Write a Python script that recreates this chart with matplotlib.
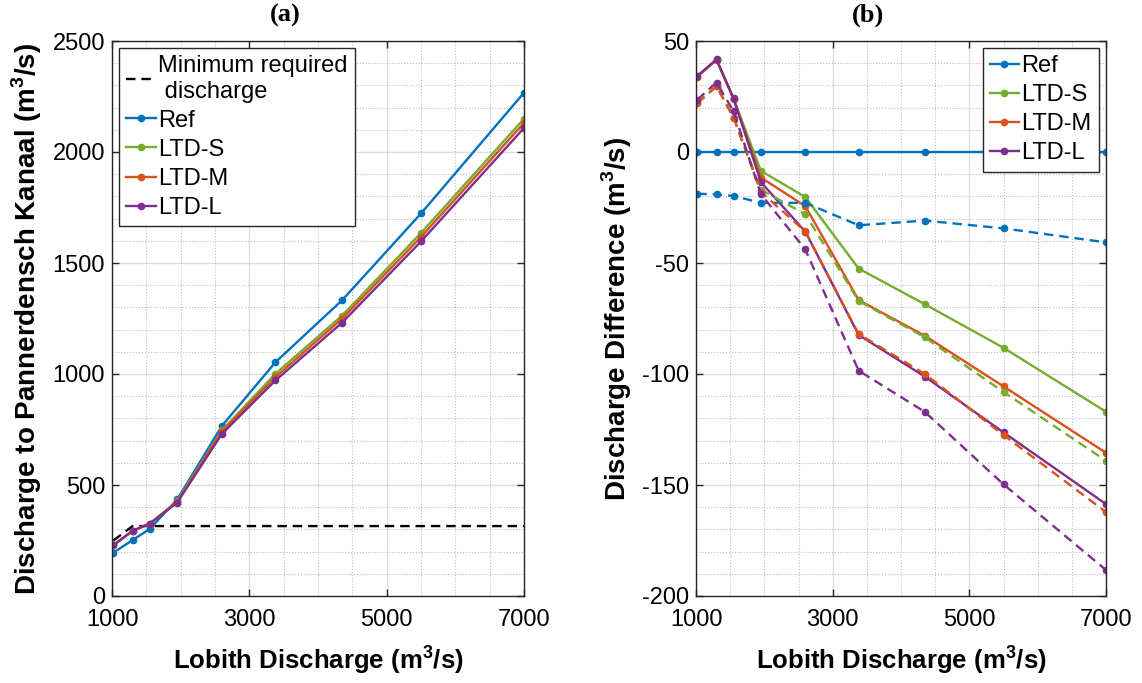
import numpy as np
import matplotlib.pyplot as plt
from matplotlib.ticker import MultipleLocator

plt.rcParams['font.family'] = ['Liberation Sans', 'DejaVu Sans']
plt.rcParams['mathtext.fontset'] = 'custom'
plt.rcParams['mathtext.rm'] = 'Liberation Sans'
plt.rcParams['mathtext.bf'] = 'Liberation Sans:bold'
plt.rcParams['axes.unicode_minus'] = False

# Lobith discharge (m3/s)
lobith = [1020, 1300, 1550, 1950, 2600, 3380, 4350, 5500, 7000]

# (a) discharge to Pannerdensch Kanaal
min_x = [1020, 1300, 7000]
min_q = [250, 315, 315]
q_ref = [195, 252, 302, 435, 766, 1053, 1332, 1723, 2267]
q_ltd_s = [229, 293, 326, 427, 746, 1001, 1263, 1635, 2150]
q_ltd_m = [229, 293, 326, 424, 742, 986, 1249, 1617, 2131]
q_ltd_l = [229, 294, 326, 421, 730, 971, 1231, 1597, 2108]

# (b) discharge difference, solid and dashed scenarios
d_ref = [0, 0, 0, 0, 0, 0, 0, 0, 0]
d_ltd_s = [34, 41.5, 24, -8.5, -20.3, -52.5, -68.6, -88.2, -117]
d_ltd_m = [34, 41.5, 24, -11.5, -24.4, -66.7, -82.8, -105.6, -135.5]
d_ltd_l = [34.3, 41.7, 24.1, -13.6, -35.9, -82.4, -101.2, -126.3, -158.6]
d_ref_2 = [-18.8, -19.1, -19.8, -22.9, -22.9, -33.0, -30.9, -34.4, -40.7]
d_ltd_s_2 = [22, 29.6, 15.5, -17, -28, -67.1, -83.5, -108.1, -139.1]
d_ltd_m_2 = [22.1, 29.6, 15.5, -18, -35.8, -82, -100, -127.5, -162.2]
d_ltd_l_2 = [23.6, 31.3, 18.3, -19, -43.9, -98.5, -117.1, -149.7, -188.3]

xticks = [1000, 3000, 5000, 7000]

c_ref = '#0072BD'
c_s = '#77AC30'
c_m = '#D95319'
c_l = '#7E2F8E'
lw = 1.7
ms = 9
dash = (4, 2.5)

fig = plt.figure(figsize=(11.42, 6.83), dpi=100)
ax1 = fig.add_axes([112/1142, 87/683, 412/1142, 555/683])
ax2 = fig.add_axes([696/1142, 87/683, 410/1142, 555/683])


def style(ax):
    ax.set_xlim(1000, 7000)
    ax.set_xticks(xticks)
    ax.xaxis.set_minor_locator(MultipleLocator(500))
    ax.grid(True, which='major', color='#262626', alpha=0.15, lw=1)
    ax.grid(True, which='minor', color='#262626', alpha=0.3, lw=0.8, ls=':')
    ax.tick_params(which='major', direction='in', length=5, width=1,
                   top=True, right=True, labelsize=17, colors='#262626',
                   labelcolor='black', pad=5)
    ax.tick_params(axis='x', which='major', pad=9)
    ax.tick_params(which='minor', length=0)
    for sp in ax.spines.values():
        sp.set_color('#262626')
        sp.set_linewidth(1)
    ax.set_axisbelow(True)
    ax.set_xlabel(r'Lobith Discharge (m$^{\mathbf{3}}$/s)', fontsize=18.5,
                  fontweight='bold')
    ax.xaxis.set_label_coords(0.5, -0.085)


def legend(ax, loc):
    leg = ax.legend(loc=loc, fontsize=17, handlelength=1.25,
                    handletextpad=0.1, borderpad=0.3, labelspacing=0.3,
                    borderaxespad=0.3, fancybox=False, framealpha=1)
    leg.get_frame().set_edgecolor('#262626')
    leg.get_frame().set_linewidth(1)


style(ax1)
ax1.plot(min_x, min_q, color='black', lw=lw, dashes=dash, label='Minimum required\n discharge')
ax1.plot(lobith, q_ref, '.-', color=c_ref, lw=lw, ms=ms, label='Ref')
ax1.plot(lobith, q_ltd_s, '.-', color=c_s, lw=lw, ms=ms, label='LTD-S')
ax1.plot(lobith, q_ltd_m, '.-', color=c_m, lw=lw, ms=ms, label='LTD-M')
ax1.plot(lobith, q_ltd_l, '.-', color=c_l, lw=lw, ms=ms, label='LTD-L')
ax1.set_ylim(0, 2500)
ax1.yaxis.set_major_locator(MultipleLocator(500))
ax1.yaxis.set_minor_locator(MultipleLocator(100))
ax1.set_ylabel(r'Discharge to Pannerdensch Kanaal (m$^{\mathbf{3}}$/s)',
               fontsize=20, fontweight='bold')
ax1.yaxis.set_label_coords(-0.165, 0.5)
ax1.text(0.42, 1 + 26/555, '(a)', transform=ax1.transAxes, ha='center',
         va='center', fontsize=19, fontweight='bold', family='Liberation Serif')
legend(ax1, 'upper left')

style(ax2)
ax2.plot(lobith, d_ref, '.-', color=c_ref, lw=lw, ms=ms, label='Ref')
ax2.plot(lobith, d_ltd_s, '.-', color=c_s, lw=lw, ms=ms, label='LTD-S')
ax2.plot(lobith, d_ltd_m, '.-', color=c_m, lw=lw, ms=ms, label='LTD-M')
ax2.plot(lobith, d_ltd_l, '.-', color=c_l, lw=lw, ms=ms, label='LTD-L')
ax2.plot(lobith, d_ref_2, '.', ls='--', dashes=dash, color=c_ref, lw=lw, ms=ms)
ax2.plot(lobith, d_ltd_s_2, '.', ls='--', dashes=dash, color=c_s, lw=lw, ms=ms)
ax2.plot(lobith, d_ltd_m_2, '.', ls='--', dashes=dash, color=c_m, lw=lw, ms=ms)
ax2.plot(lobith, d_ltd_l_2, '.', ls='--', dashes=dash, color=c_l, lw=lw, ms=ms)
ax2.set_ylim(-200, 50)
ax2.yaxis.set_major_locator(MultipleLocator(50))
ax2.yaxis.set_minor_locator(MultipleLocator(10))
ax2.set_ylabel(r'Discharge Difference (m$^{\mathbf{3}}$/s)', fontsize=20,
               fontweight='bold')
ax2.yaxis.set_label_coords(-0.15, 0.5)
ax2.text(0.42, 1 + 26/555, '(b)', transform=ax2.transAxes, ha='center',
         va='center', fontsize=19, fontweight='bold', family='Liberation Serif')
legend(ax2, 'upper right')

plt.savefig('out.png', dpi=100)
